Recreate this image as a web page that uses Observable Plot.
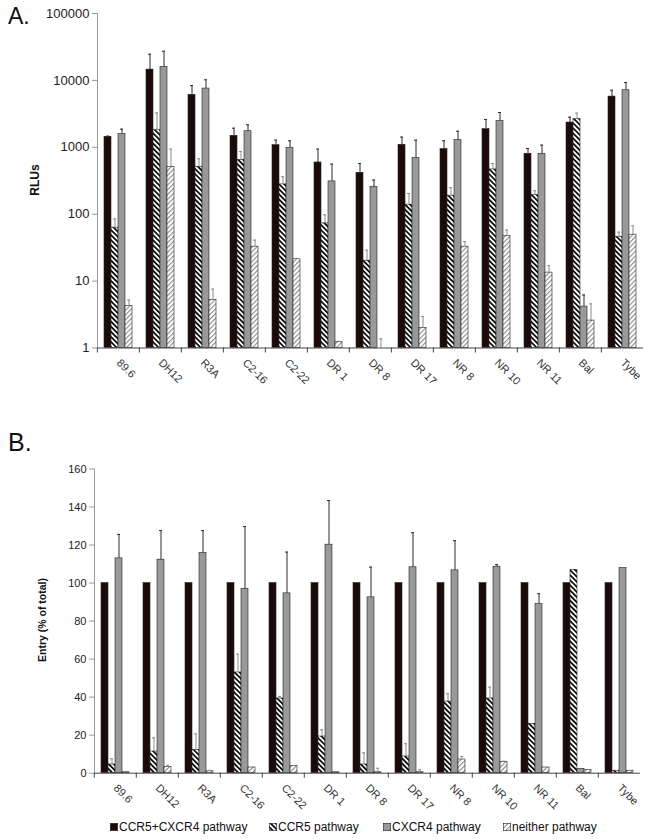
<!DOCTYPE html>
<html><head><meta charset="utf-8">
<script src="https://cdn.jsdelivr.net/npm/d3@7"></script>
<script src="https://cdn.jsdelivr.net/npm/@observablehq/plot@0.6"></script>
<style>
body{margin:0;background:#fff;font-family:"Liberation Sans",Arial,sans-serif;}
#wrap{position:relative;width:652px;height:839px;overflow:hidden;background:#fff;}
.panel{position:absolute;left:8px;color:#111;line-height:1;}
.ylab{position:absolute;font-weight:bold;transform:translate(-50%,-50%) rotate(-90deg);white-space:nowrap;color:#111;line-height:1;}
#chartA{position:absolute;left:0;top:0;}
#chartB{position:absolute;left:0;top:400px;}
#legend{position:absolute;left:0;top:821px;width:652px;height:14px;font-size:12px;color:#111;line-height:1;}
#legend .item{position:absolute;top:0;display:flex;align-items:center;gap:1px;white-space:nowrap;}
#legend svg{display:block;}
</style></head>
<body>
<svg width="0" height="0" style="position:absolute;left:0;top:0">
<defs>
<pattern id="hatchDark" patternUnits="userSpaceOnUse" width="3.6" height="3.6" patternTransform="rotate(-45)">
<rect width="3.6" height="3.6" fill="#fff"/>
<rect width="1.8" height="3.6" fill="#111"/>
</pattern>
<pattern id="hatchLight" patternUnits="userSpaceOnUse" width="3.4" height="3.4" patternTransform="rotate(45)">
<rect width="3.4" height="3.4" fill="#fff"/>
<rect width="1.1" height="3.4" fill="#8a8a8a"/>
</pattern>
</defs>
</svg>
<div id="wrap">
<div class="panel" style="top:5px;font-size:23px">A.</div>
<div class="panel" style="top:430px;font-size:25px">B.</div>
<div id="chartA"></div>
<div id="chartB"></div>
<div class="ylab" style="left:35px;top:180px;font-size:12px">RLUs</div>
<div class="ylab" style="left:42px;top:620px;font-size:10.5px">Entry (% of total)</div>
<div id="legend"></div>
</div>
<script>
const categories = ["89.6","DH12","R3A","C2-16","C2-22","DR 1","DR 8","DR 17","NR 8","NR 10","NR 11","Bal","Tybe"];
const series = ["CCR5+CXCR4 pathway","CCR5 pathway","CXCR4 pathway","neither pathway"];
const fills = ["#1c0a0a","url(#hatchDark)","#999999","url(#hatchLight)"];

// Panel A: RLUs (log scale)
const rluDual      = [1435,14500,6080,1485,1077,593,416,1090,940,1868,800,2346,5730];
const rluDualErr   = [1470,24600,8360,1930,1280,940,573,1420,1250,2600,960,2820,7130];
const rluCCR5      = [63,1800,512,650,279,73,20.2,139,189,467,193,2640,46];
const rluCCR5Err   = [85,3270,673,865,363,98,29,204,249,573,224,3240,54];
const rluCXCR4     = [1574,15900,7550,1740,984,309,257,690,1280,2460,800,4.16,7130];
const rluCXCR4Err  = [1870,27300,10200,2170,1250,561,324,1280,1740,3310,1077,6.2,9270];
const rluNeither   = [4.26,512,5.24,32.7,21.2,1.24,1,2.0,32.7,47.3,13.4,2.57,49.4];
const rluNeitherErr= [5.2,940,7.6,41,null,null,1.37,2.95,39,58,17,4.57,67];
const rluTicks = [1,10,100,1000,10000,100000];

// Panel B: Entry (% of total)
const entryDual      = [100,100,100,100,100,100,100,100,100,100,100,100,100];
const entryCCR5      = [4.6,11.4,12.3,53,39.3,19.3,4.6,8.8,37.7,39.3,26,107,1.3];
const entryCCR5Err   = [7.6,18.6,20.7,62.6,40.4,22.8,10.7,15.5,41.8,45.3,null,null,null];
const entryCXCR4     = [113,112.3,115.8,97,94.6,120.2,92.5,108.3,106.7,108.6,89,2.3,107.9];
const entryCXCR4Err  = [125.6,127.6,127.6,129.7,116.3,143.4,108.4,126.5,122.3,109.7,94.4,null,null];
const entryNeither   = [0.5,3.2,1.0,3.0,3.7,0.5,0.5,0.5,7.2,6.0,3.0,1.8,1.3];
const entryNeitherErr= [null,4.2,1.5,null,null,null,2.6,1.8,8.8,6.3,null,null,null];
const entryTicks = [0,20,40,60,80,100,120,140,160];

// legend item left edges (layout only)
const legendLeft = [110, 269, 383, 503];

function buildRows(vals, errs) {
  const rows = [];
  categories.forEach((c, i) => {
    series.forEach((s, k) => {
      rows.push({cat: c, s, si: k, v: vals[k][i], e: errs[k] ? errs[k][i] : null});
    });
  });
  return rows;
}
const rowsA = buildRows([rluDual, rluCCR5, rluCXCR4, rluNeither], [rluDualErr, rluCCR5Err, rluCXCR4Err, rluNeitherErr]);
const rowsB = buildRows([entryDual, entryCCR5, entryCXCR4, entryNeither], [null, entryCCR5Err, entryCXCR4Err, entryNeitherErr]);

const font = '"Liberation Sans", Arial, sans-serif';

function makeChart({rows, height, mt, mb, ml, mr, yopts, base, yTicks, yFont, xFont}) {
  const gw = (652 - ml - mr) / categories.length;
  const errs = rows.filter(d => d.e != null);
  const errDark = errs.filter(d => d.si === 0 || d.si === 2);
  const errLight = errs.filter(d => d.si === 1 || d.si === 3);
  return Plot.plot({
    width: 652, height,
    marginTop: mt, marginBottom: mb, marginLeft: ml, marginRight: mr,
    style: {fontFamily: font, background: "transparent", overflow: "visible"},
    fx: {domain: categories, padding: 0, axis: null, label: null},
    x: {domain: series, paddingInner: 0, paddingOuter: 0.75, axis: null},
    y: {...yopts, axis: null},
    color: {domain: series, range: fills},
    marks: [
      Plot.barY(rows, {fx: "cat", x: "s", y1: base, y2: "v", fill: "s", stroke: "#222", strokeWidth: 0.6}),
      Plot.ruleX(errDark, {fx: "cat", x: "s", y1: "v", y2: "e", stroke: "#2a2a2a", strokeWidth: 1}),
      Plot.tickY(errDark, {fx: "cat", x: "s", y: "e", stroke: "#2a2a2a", strokeWidth: 1, insetLeft: 2, insetRight: 2}),
      Plot.ruleX(errLight, {fx: "cat", x: "s", y1: "v", y2: "e", stroke: "#8a8a8a", strokeWidth: 1}),
      Plot.tickY(errLight, {fx: "cat", x: "s", y: "e", stroke: "#8a8a8a", strokeWidth: 1, insetLeft: 2, insetRight: 2}),
      Plot.ruleY([base], {stroke: "#444", strokeWidth: 1}),
      Plot.frame({anchor: "left", facetAnchor: "left", stroke: "#999"}),
      Plot.axisY({ticks: yTicks, tickFormat: d => String(d), tickSize: 5, tickPadding: 3, fontSize: yFont, fill: "#222", stroke: "#999", label: null}),
      Plot.axisFx({anchor: "bottom", tickSize: 0, tickRotate: 45, tickPadding: 13, fontSize: xFont, fill: "#333", label: null}),
      Plot.axisFx({anchor: "bottom", tickSize: 5, tickFormat: () => "", dx: -gw / 2, stroke: "#444", label: null})
    ]
  });
}

document.getElementById("chartA").append(makeChart({
  rows: rowsA, height: 395, mt: 13, mb: 47.5, ml: 95, mr: 7.7,
  yopts: {type: "log", domain: [1, 100000]}, base: 1, yTicks: rluTicks, yFont: 13, xFont: 11
}));
document.getElementById("chartB").append(makeChart({
  rows: rowsB, height: 420, mt: 68.5, mb: 47.3, ml: 91, mr: 9.6,
  yopts: {type: "linear", domain: [0, 160]}, base: 0, yTicks: entryTicks, yFont: 11, xFont: 11
}));

const legend = document.getElementById("legend");
series.forEach((s, k) => {
  const item = document.createElement("div");
  item.className = "item";
  item.style.left = legendLeft[k] + "px";
  item.innerHTML = `<svg width="8" height="8"><rect x="0.3" y="0.3" width="7.4" height="7.4" fill="${fills[k]}" stroke="#222" stroke-width="0.6"/></svg><span>${s}</span>`;
  legend.append(item);
});
</script>
</body></html>
